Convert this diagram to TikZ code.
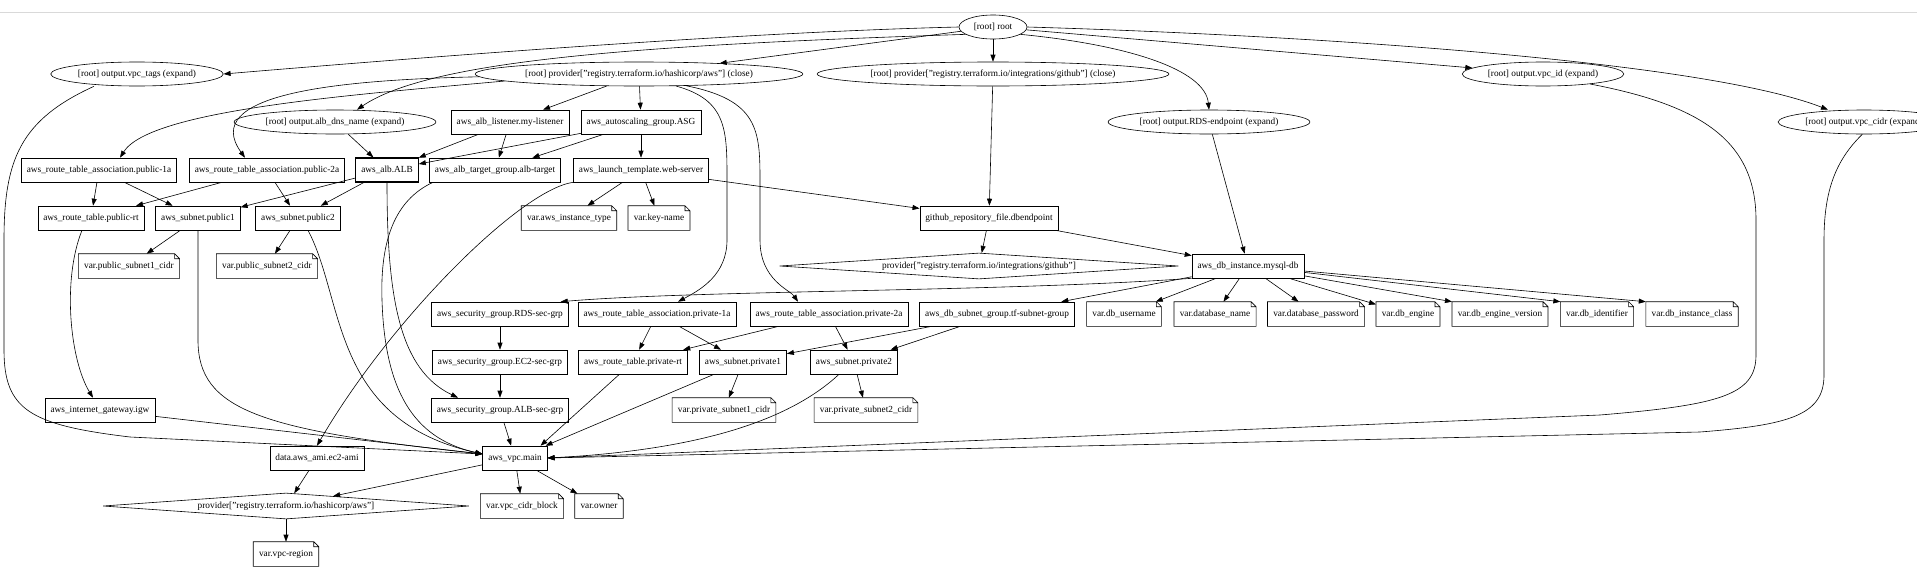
\documentclass[tikz,border=0pt]{standalone}
\usepackage{fontspec}
\setmainfont{Liberation Serif}
\usetikzlibrary{shapes.geometric, arrows.meta}

\begin{document}
\begin{tikzpicture}[x=1pt, y=-1pt, line width=0.6pt, >={Triangle[length=7pt,width=5pt]},
  font=\fontsize{9.3}{11}\selectfont,
  res/.style={draw, rectangle, minimum height=24pt, inner xsep=5.5pt},
  outp/.style={draw, ellipse, minimum height=24pt, inner xsep=2pt, inner ysep=0pt},
  prov/.style={draw, diamond, aspect=20, inner sep=0pt, minimum height=26pt},
  varnote/.style={rectangle, minimum height=24pt, inner xsep=5.5pt,
    append after command={\pgfextra{\let\vn\tikzlastnode
      \draw (\vn.south west) -- (\vn.north west) -- ([xshift=-5pt]\vn.north east)
        -- ([yshift=-5pt]\vn.north east) -- (\vn.south east) -- cycle
        ([xshift=-5pt]\vn.north east) |- ([yshift=-5pt]\vn.north east);}}},
  dep/.style={->}]
  \useasboundingbox (0,0) rectangle (1917,581);
  \draw[black!15, line width=1pt] (0,12) -- (1917,12);

  \node[outp, minimum width=68pt] (root) at (993,27) {[root] root};
  \node[outp] (outtags) at (137,74) {[root] output.vpc\_tags (expand)};
  \node[outp] (provaws) at (639,74) {[root] provider["registry.terraform.io/hashicorp/aws"] (close)};
  \node[outp] (provgh) at (993,74) {[root] provider["registry.terraform.io/integrations/github"] (close)};
  \node[outp] (outvpcid) at (1543,74) {[root] output.vpc\_id (expand)};
  \node[outp] (outdns) at (335,122) {[root] output.alb\_dns\_name (expand)};
  \node[res] (listener) at (510,122) {aws\_alb\_listener.my-listener};
  \node[res] (asg) at (641,122) {aws\_autoscaling\_group.ASG};
  \node[outp] (outrds) at (1209,122) {[root] output.RDS-endpoint (expand)};
  \node[outp] (outcidr) at (1864,122) {[root] output.vpc\_cidr (expand)};
  \node[res] (rtapub1a) at (99,170) {aws\_route\_table\_association.public-1a};
  \node[res] (rtapub2a) at (267,170) {aws\_route\_table\_association.public-2a};
  \node[res, line width=1.2pt] (alb) at (387,170) {aws\_alb.ALB};
  \node[res] (tg) at (495,170) {aws\_alb\_target\_group.alb-target};
  \node[res] (lt) at (641,170) {aws\_launch\_template.web-server};
  \node[res] (rtpub) at (91,218) {aws\_route\_table.public-rt};
  \node[res] (subpub1) at (198,218) {aws\_subnet.public1};
  \node[res] (subpub2) at (298,218) {aws\_subnet.public2};
  \node[varnote] (vinst) at (569,218) {var.aws\_instance\_type};
  \node[varnote] (vkey) at (659,218) {var.key-name};
  \node[res] (ghfile) at (989,218) {github\_repository\_file.dbendpoint};
  \node[varnote] (vpub1) at (129,266) {var.public\_subnet1\_cidr};
  \node[varnote] (vpub2) at (267,266) {var.public\_subnet2\_cidr};
  \node[prov, minimum width=399pt] (provghd) at (979,266) {provider["registry.terraform.io/integrations/github"]};
  \node[res] (db) at (1248,266) {aws\_db\_instance.mysql-db};
  \node[res] (sgrds) at (500,314) {aws\_security\_group.RDS-sec-grp};
  \node[res] (rtapriv1a) at (657,314) {aws\_route\_table\_association.private-1a};
  \node[res] (rtapriv2a) at (829,314) {aws\_route\_table\_association.private-2a};
  \node[res] (dbsub) at (997,314) {aws\_db\_subnet\_group.tf-subnet-group};
  \node[varnote] (vdbuser) at (1124,314) {var.db\_username};
  \node[varnote] (vdbname) at (1215,314) {var.database\_name};
  \node[varnote] (vdbpass) at (1316,314) {var.database\_password};
  \node[varnote] (vdbeng) at (1408,314) {var.db\_engine};
  \node[varnote] (vdbengv) at (1500,314) {var.db\_engine\_version};
  \node[varnote] (vdbid) at (1597,314) {var.db\_identifier};
  \node[varnote] (vdbclass) at (1692,314) {var.db\_instance\_class};
  \node[res] (sgec2) at (500,362) {aws\_security\_group.EC2-sec-grp};
  \node[res] (rtpriv) at (633,362) {aws\_route\_table.private-rt};
  \node[res] (subpriv1) at (743,362) {aws\_subnet.private1};
  \node[res] (subpriv2) at (854,362) {aws\_subnet.private2};
  \node[res] (igw) at (100,410) {aws\_internet\_gateway.igw};
  \node[res] (sgalb) at (500,410) {aws\_security\_group.ALB-sec-grp};
  \node[varnote] (vpriv1) at (724,410) {var.private\_subnet1\_cidr};
  \node[varnote] (vpriv2) at (866,410) {var.private\_subnet2\_cidr};
  \node[res] (ami) at (317,458) {data.aws\_ami.ec2-ami};
  \node[res] (vpc) at (515,458) {aws\_vpc.main};
  \node[prov, minimum width=366pt] (provawsd) at (286,506) {provider["registry.terraform.io/hashicorp/aws"]};
  \node[varnote] (vcidr) at (522,506) {var.vpc\_cidr\_block};
  \node[varnote] (vowner) at (599,506) {var.owner};
  \node[varnote] (vregion) at (286,554) {var.vpc-region};

  \draw[dep] (root.west) .. controls (750,32) and (450,55) .. (outtags.east);
  \draw[dep] (root.195) .. controls (640,45) and (430,60) .. ([xshift=22pt]outdns.north);
  \draw[dep] (root) -- (provaws);
  \draw[dep] (root) -- (provgh);
  \draw[dep] (root.-15) .. controls (1130,45) and (1205,70) .. (outrds.north);
  \draw[dep] (root) -- (outvpcid);
  \draw[dep] (root.east) .. controls (1300,35) and (1700,60) .. ([xshift=-36pt]outcidr.north);
  \draw[dep] (provaws) -- (listener);
  \draw[dep] (provaws) -- (asg);
  \draw[dep] (provaws.183) .. controls (350,95) and (150,110) .. ([xshift=21pt]rtapub1a.north);
  \draw[dep] (provaws.181) .. controls (330,80) and (200,95) .. ([xshift=-22pt]rtapub2a.north);
  \draw[dep] (provaws.-18) .. controls (727,100) and (727,130) .. (727,180) -- (727,240) .. controls (727,275) and (700,290) .. ([xshift=21pt]rtapriv1a.north);
  \draw[dep] (provaws.-14) .. controls (758,100) and (760,130) .. (760,180) -- (760,240) .. controls (760,280) and (790,290) .. ([xshift=-31pt]rtapriv2a.north);
  \draw[dep] (provgh) -- (ghfile);
  \draw[dep] (outrds) -- (db);
  \draw[dep] (outdns) -- (alb);
  \draw[dep] (listener) -- (alb);
  \draw[dep] (listener) -- (tg);
  \draw[dep] (asg) -- (alb);
  \draw[dep] (asg) -- (tg);
  \draw[dep] (asg) -- (lt);
  \draw[dep] (rtapub1a) -- (rtpub);
  \draw[dep] (rtapub1a) -- (subpub1);
  \draw[dep] (rtapub2a) -- (rtpub);
  \draw[dep] (rtapub2a) -- (subpub2);
  \draw[dep] (alb) -- (subpub1);
  \draw[dep] (alb) -- (subpub2);
  \draw[dep] (alb.south) .. controls (387,300) and (400,370) .. ([xshift=-42pt]sgalb.north);
  \draw[dep] ([xshift=-62pt]tg.south) .. controls (395,200) and (380,240) .. (382,300) .. controls (385,400) and (420,440) .. ([yshift=4pt]vpc.west);
  \draw[dep] (lt) -- (vinst);
  \draw[dep] (lt) -- (vkey);
  \draw[dep] (lt) -- (ghfile);
  \draw[dep] (lt.south west) .. controls (520,190) and (390,320) .. (ami.north);
  \draw[dep] (ghfile) -- (provghd);
  \draw[dep] (ghfile) -- (db);
  \draw[dep] (subpub1) -- (vpub1);
  \draw[dep] (subpub2) -- (vpub2);
  \draw[dep] ([xshift=-9pt]rtpub.south) .. controls (62,280) and (70,360) .. ([xshift=-7pt]igw.north);
  \draw[dep] ([xshift=-43pt]outtags.south) .. controls (20,120) and (4,160) .. (4,240) -- (4,350) .. controls (4,410) and (30,425) .. (130,437) -- ([yshift=4pt]vpc.west);
  \draw[dep] (subpub1.south) -- (198,340) .. controls (198,410) and (260,430) .. ([yshift=4pt]vpc.west);
  \draw[dep] ([xshift=10pt]subpub2.south) .. controls (345,300) and (330,420) .. ([yshift=4pt]vpc.west);
  \draw[dep] (igw) -- ([yshift=4pt]vpc.west);
  \draw[dep] (sgrds) -- (sgec2);
  \draw[dep] (sgec2) -- (sgalb);
  \draw[dep] (sgalb) -- (vpc);
  \draw[dep] (db.south west) .. controls (1000,292) and (700,290) .. ([xshift=-8pt]sgrds.north east);
  \draw[dep] (db) -- (dbsub);
  \draw[dep] (db) -- (vdbuser);
  \draw[dep] (db) -- (vdbname);
  \draw[dep] (db) -- (vdbpass);
  \draw[dep] (db) -- (vdbeng);
  \draw[dep] (db) -- (vdbengv.north west);
  \draw[dep] (db) -- (vdbid.north west);
  \draw[dep] (db) -- (vdbclass.north west);
  \draw[dep] (rtapriv1a) -- (rtpriv);
  \draw[dep] (rtapriv1a) -- (subpriv1);
  \draw[dep] (rtapriv2a) -- (rtpriv);
  \draw[dep] (rtapriv2a) -- (subpriv2);
  \draw[dep] (dbsub) -- (subpriv1);
  \draw[dep] (dbsub) -- (subpriv2);
  \draw[dep] (subpriv1) -- (vpriv1);
  \draw[dep] (subpriv2) -- (vpriv2);
  \draw[dep] (rtpriv) -- ([xshift=-7pt]vpc.north east);
  \draw[dep] (subpriv1) -- ([xshift=-2pt]vpc.north east);
  \draw[dep] ([xshift=-15pt]subpriv2.south) .. controls (790,420) and (700,450) .. (vpc.east);
  \draw[dep] (outvpcid.-12) .. controls (1700,105) and (1756,140) .. (1756,220) -- (1756,355) .. controls (1756,395) and (1720,405) .. (1600,415) -- (vpc.east);
  \draw[dep] (outcidr.-98) .. controls (1836,160) and (1824,190) .. (1824,240) -- (1824,375) .. controls (1824,415) and (1790,425) .. (1700,432) -- (vpc.east);
  \draw[dep] (vpc) -- (provawsd);
  \draw[dep] (vpc) -- (vcidr);
  \draw[dep] (vpc) -- (vowner);
  \draw[dep] (ami) -- (provawsd);
  \draw[dep] (provawsd) -- (vregion);
\end{tikzpicture}
\end{document}
